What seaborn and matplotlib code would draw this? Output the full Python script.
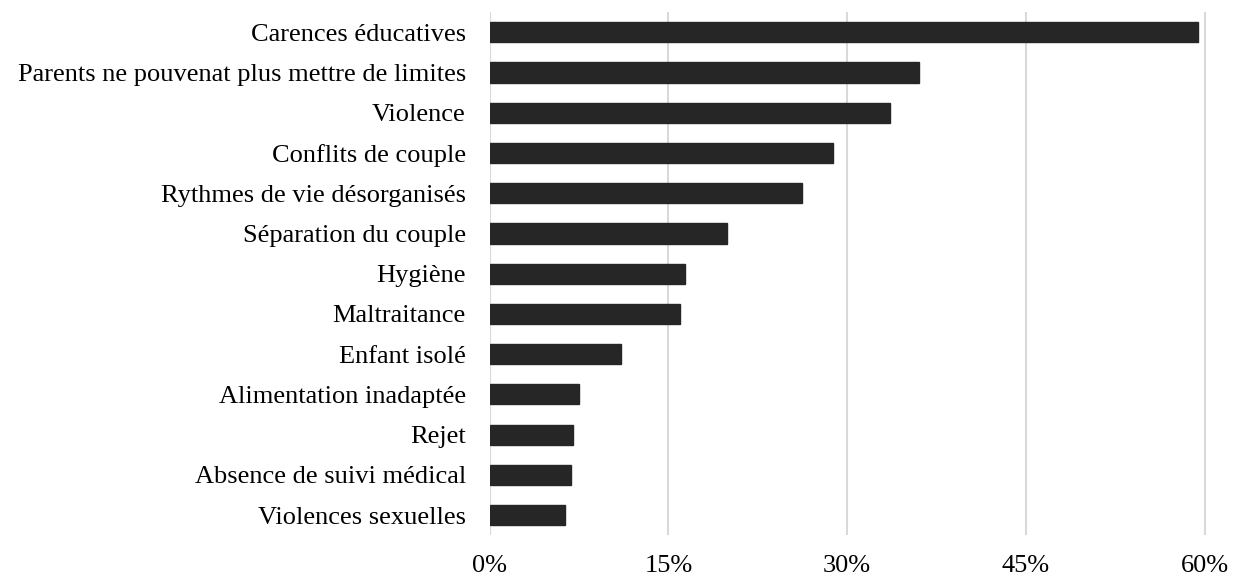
import matplotlib
matplotlib.use("Agg")
import matplotlib.pyplot as plt
import seaborn as sns
import pandas as pd
from matplotlib.ticker import PercentFormatter

# Data
categories = [
    "Carences éducatives",
    "Parents ne pouvenat plus mettre de limites",
    "Violence",
    "Conflits de couple",
    "Rythmes de vie désorganisés",
    "Séparation du couple",
    "Hygiène",
    "Maltraitance",
    "Enfant isolé",
    "Alimentation inadaptée",
    "Rejet",
    "Absence de suivi médical",
    "Violences sexuelles",
]
values = [59.4, 36.0, 33.6, 28.8, 26.2, 19.9, 16.4, 16.0, 11.0, 7.5, 7.0, 6.8, 6.3]
x_ticks = [0, 15, 30, 45, 60]

df = pd.DataFrame({"cat": categories, "val": values})

sns.set_theme(style="white")
plt.rcParams["font.family"] = ["Liberation Serif", "DejaVu Serif"]

fig, ax = plt.subplots(figsize=(12.33, 5.78), dpi=100)
fig.subplots_adjust(left=0.397, right=0.979, top=0.979, bottom=0.074)

sns.barplot(data=df, x="val", y="cat", color="#262626", saturation=1,
            width=0.5, ax=ax, edgecolor="#262626")

ax.set_xlim(0, 60.2)
ax.set_xticks(x_ticks)
ax.xaxis.set_major_formatter(PercentFormatter(decimals=0))
ax.grid(axis="x", color="#d9d9d9", linewidth=1.5)
ax.set_axisbelow(True)
for s in ax.spines.values():
    s.set_visible(False)
ax.set_xlabel("")
ax.set_ylabel("")
ax.tick_params(axis="x", labelsize=19, length=0, pad=14, colors="black")
ax.tick_params(axis="y", labelsize=19, length=0, pad=17, colors="black")

fig.savefig("out.png", dpi=100)
